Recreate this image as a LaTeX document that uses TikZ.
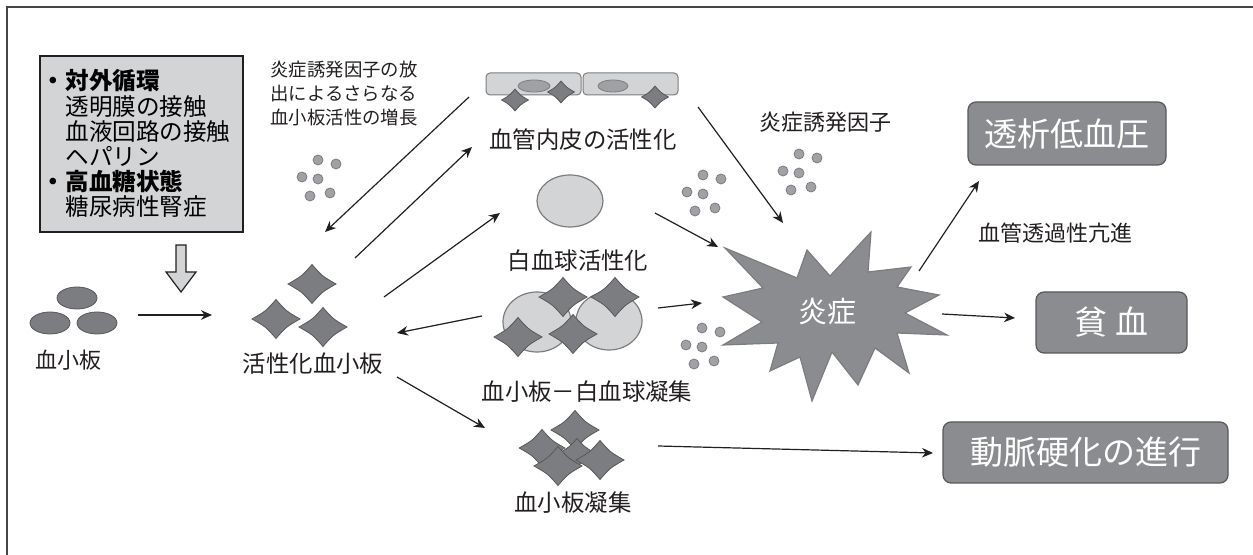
\documentclass[tikz,border=0pt]{standalone}
\usepackage{fontspec}
\setmainfont{Noto Sans CJK JP}
\usetikzlibrary{arrows.meta}
\definecolor{inkblk}{RGB}{35,31,32}
\definecolor{frmgray}{RGB}{70,70,72}
\definecolor{pltgray}{RGB}{124,125,128}
\definecolor{pltline}{RGB}{88,88,90}
\definecolor{cellgray}{RGB}{211,212,214}
\definecolor{cellline}{RGB}{125,125,128}
\definecolor{dotgray}{RGB}{160,161,164}
\definecolor{boxgray}{RGB}{139,140,143}
\tikzset{
  arr/.style={-{Stealth[length=5.5pt,width=4.8pt]}, inkblk, line width=0.6pt},
  frm/.style={frmgray, line width=1pt},
  lbl/.style={font=\fontsize{11.7}{12}\selectfont, text=inkblk, inner sep=0pt},
  slbl/.style={font=\fontsize{11}{12}\selectfont, text=inkblk, inner sep=0pt},
  note/.style={font=\fontsize{9.2}{12}\selectfont, text=inkblk, inner sep=0pt, align=left},
  cause/.style={draw=inkblk, fill=cellgray, line width=0.8pt, anchor=north west,
                minimum width=101.5pt, minimum height=88pt, text width=99.5pt,
                inner xsep=1pt, align=left, font=\fontsize{11.8}{12.6}\selectfont},
  push/.style={draw=inkblk, fill=cellgray, line width=0.6pt},
  outc/.style={draw=pltline, fill=boxgray, rounded corners=4pt, line width=0.6pt,
               text=white, font=\fontsize{16.5}{18}\selectfont},
  cellbox/.style={draw=cellline, fill=cellgray, line width=0.5pt, rounded corners=2pt},
  wbcell/.style={draw=cellline, fill=cellgray, line width=0.6pt},
  cyto/.style={draw=cellline, fill=dotgray, line width=0.4pt},
  pfill/.style={draw=pltline, fill=pltgray, line width=0.4pt},
  burst/.style={draw=cellline, fill=boxgray, line width=0.6pt},
  % activated platelet: diamond with slightly hollow sides
  pics/aplt/.style={code={
    \draw[pfill] (-24,0) .. controls (-10,8) .. (0,19.5) .. controls (10,8) .. (24,0)
      .. controls (10,-8) .. (0,-19.5) .. controls (-10,-8) .. (-24,0) -- cycle;}},
}
\begin{document}
\begin{tikzpicture}[x=0.5pt, y=-0.5pt]
  \useasboundingbox (0,0) rectangle (1253,555);
  \draw[frm] (7,555) -- (7,7) -- (1253,7);

  % triggers
  \node[cause] (cause) at (39,55) {%
    \textbf{・対外循環}\\
    \hspace*{1em}透明膜の接触\\
    \hspace*{1em}血液回路の接触\\
    \hspace*{1em}ヘパリン\\
    \textbf{・高血糖状態}\\
    \hspace*{1em}糖尿病性腎症};
  \draw[push] (176,245) -- (186,245) -- (186,272) -- (196,272) -- (181,292)
    -- (166,272) -- (176,272) -- cycle;

  % resting platelets
  \foreach \px/\py in {77/298, 50/323, 97/323}
    \draw[pfill] (\px,\py) ellipse [x radius=20, y radius=11];
  \node[slbl] (plt) at (68,360) {血小板};

  % activated platelets
  \foreach \px/\py in {312/284, 276/319, 323/327}
    \pic at (\px,\py) {aplt};
  \node[lbl] (act) at (313,364) {活性化血小板};

  % endothelium
  \draw[cellbox] (486,73) rectangle (581,95);
  \draw[cellbox] (583,73) rectangle (678,95);
  \draw[cyto] (534,86) ellipse [x radius=16, y radius=6];
  \draw[cyto] (613,86) ellipse [x radius=15, y radius=6];
  \foreach \px/\py in {515/100, 561/92, 655/97}
    \pic[scale=0.56] at (\px,\py) {aplt};
  \node[lbl] (endo) at (583,140) {血管内皮の活性化};

  % leukocytes
  \draw[wbcell] (570,201) ellipse [x radius=33, y radius=26];
  \node[lbl] (wbc) at (578,261) {白血球活性化};
  \draw[wbcell] (537,322) ellipse [x radius=34, y radius=30];
  \draw[wbcell] (609,321) ellipse [x radius=33, y radius=29];
  \foreach \px/\py in {563/297, 615/297, 518/337, 573/334}
    \pic at (\px,\py) {aplt};
  \node[lbl] (agg) at (587,392) {血小板－白血球凝集};

  % aggregation
  \foreach \px/\py/\s in {575/430/1, 542/448/0.95, 577/453/0.75, 600/460/1, 558/466/1}
    \pic[scale=\s] at (\px,\py) {aplt};
  \node[lbl] (clot) at (573,503) {血小板凝集};

  % released factors
  \foreach \gx/\gy in {318/160, 703/175, 702/328, 799/154}
    \foreach \dx/\dy in {0/0, 18/4, -16/17, 0/19, -8/36, 12/33}
      \draw[cyto] (\gx+\dx,\gy+\dy) circle [radius=5];
  \node[note, anchor=west] (rel) at (270,94) {炎症誘発因子の放\\出によるさらなる\\血小板活性の増長};
  \node[slbl] (fac) at (825,122) {炎症誘発因子};

  % inflammation
  \draw[burst] (725,248) -- (797,278) -- (807,250) -- (830,276) -- (871,232)
    -- (868,272) -- (911,267) -- (897,287) -- (939,295) -- (905,313)
    -- (947,335) -- (897,333) -- (909,373) -- (875,348) -- (858,385)
    -- (832,352) -- (812,401) -- (800,357) -- (770,371) -- (778,343)
    -- (723,345) -- (762,322) -- (723,297) -- (763,288) -- cycle;
  \node[text=white, font=\fontsize{14.5}{16}\selectfont, inner sep=0pt] (infl) at (827,312) {炎症};

  % outcomes
  \node[outc, minimum width=99pt, minimum height=31.5pt] (hypo) at (1067,133.5) {透析低血圧};
  \node[outc, minimum width=75.5pt, minimum height=30.5pt] (anem) at (1111.5,322.5) {貧 血};
  \node[outc, minimum width=142.5pt, minimum height=30.5pt] (athr) at (1085.5,452.5) {動脈硬化の進行};
  \node[slbl] (perm) at (1055,233) {血管透過性亢進};

  % arrow ends
  \coordinate (pltR) at (138,315);   \coordinate (actL) at (212,315);
  \coordinate (endoBL) at (469,97);  \coordinate (actTL) at (325,232);
  \coordinate (actT) at (355,258);   \coordinate (endoL) at (472,147);
  \coordinate (actR) at (384,297);   \coordinate (wbcL) at (500,213);
  \coordinate (aggL) at (482,316);   \coordinate (actRR) at (397,333);
  \coordinate (actBR) at (397,377);  \coordinate (clotTL) at (485,428);
  \coordinate (clotR) at (658,446);  \coordinate (athrL) at (933,453);
  \coordinate (endoR) at (698,107);  \coordinate (inflT) at (783,223);
  \coordinate (wbcR) at (655,213);   \coordinate (inflTL) at (718,247);
  \coordinate (aggR) at (658,308);   \coordinate (inflL) at (702,303);
  \coordinate (inflTR) at (919,271); \coordinate (hypoBL) at (979,181);
  \coordinate (inflR) at (942,314);  \coordinate (anemL) at (1015,318);

  \draw[arr] (pltR) -- (actL);
  \draw[arr] (endoBL) -- (actTL);
  \draw[arr] (actT) -- (endoL);
  \draw[arr] (actR) -- (wbcL);
  \draw[arr] (aggL) -- (actRR);
  \draw[arr] (actBR) -- (clotTL);
  \draw[arr] (clotR) -- (athrL);
  \draw[arr] (endoR) -- (inflT);
  \draw[arr] (wbcR) -- (inflTL);
  \draw[arr] (aggR) -- (inflL);
  \draw[arr] (inflTR) -- (hypoBL);
  \draw[arr] (inflR) -- (anemL);
\end{tikzpicture}
\end{document}
